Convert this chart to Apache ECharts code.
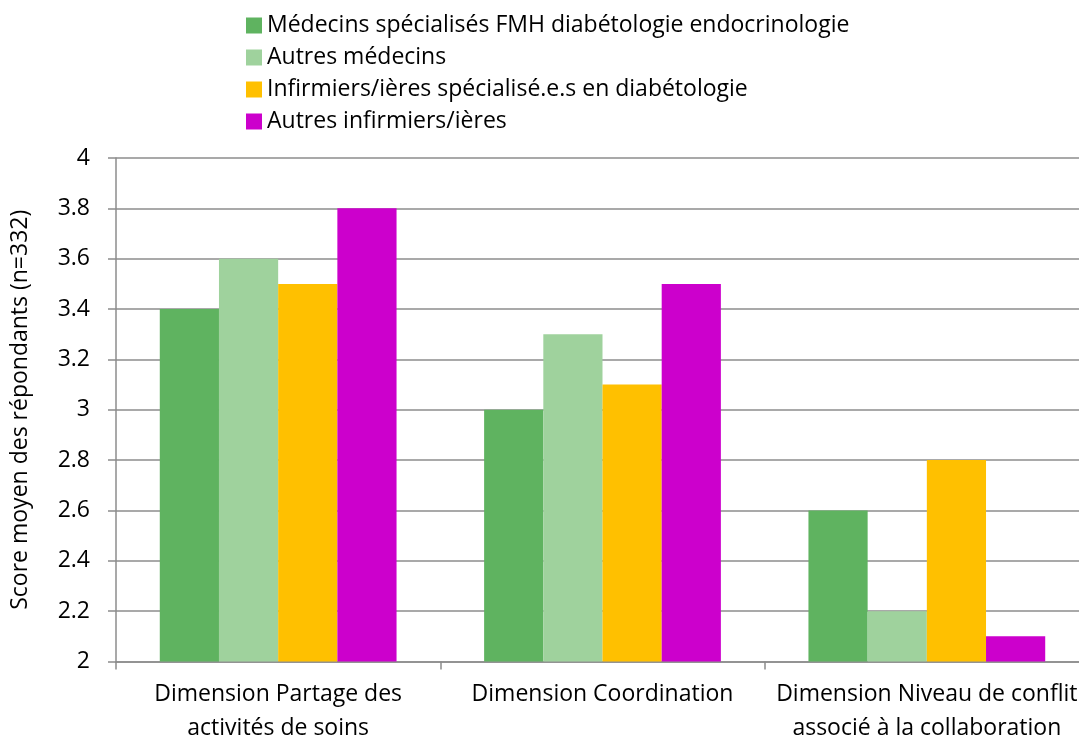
<!DOCTYPE html>
<html><head><meta charset="utf-8">
<script src="https://cdn.jsdelivr.net/npm/echarts@6/dist/echarts.min.js"></script>
<style>html,body{margin:0;padding:0;background:#fff}#c{width:1079px;height:740px}</style>
</head><body><div id="c"></div>
<script>
const categories = ["Dimension Partage des\nactivités de soins", "Dimension Coordination", "Dimension Niveau de conflit\nassocié à la collaboration"];
const seriesNames = ["Médecins spécialisés FMH diabétologie endocrinologie", "Autres médecins", "Infirmiers/ières spécialisé.e.s en diabétologie", "Autres infirmiers/ières"];
const seriesColors = ["#5fb360", "#9fd29d", "#ffc000", "#cc00cc"];
const valuesFMH = [3.4, 3.0, 2.6];
const valuesAutresMed = [3.6, 3.3, 2.2];
const valuesInfSpec = [3.5, 3.1, 2.8];
const valuesAutresInf = [3.8, 3.5, 2.1];
const allValues = [valuesFMH, valuesAutresMed, valuesInfSpec, valuesAutresInf];
const yTicks = ["2", "2.2", "2.4", "2.6", "2.8", "3", "3.2", "3.4", "3.6", "3.8", "4"];

const font = "'Open Sans', Lato, sans-serif";
const fs = 23;
const chart = echarts.init(document.getElementById('c'));
chart.setOption({
  animation: false,
  textStyle: {fontFamily: font},
  legend: {
    orient: 'vertical', left: 241, top: 9,
    itemWidth: 16, itemHeight: 16, itemGap: 9,
    icon: 'rect',
    textStyle: {fontSize: fs, color: '#000', fontFamily: font},
    data: seriesNames
  },
  grid: {left: 116, top: 158, width: 973, height: 503.5, containLabel: false, outerBoundsMode: 'none'},
  xAxis: {
    type: 'category', data: categories,
    axisLine: {lineStyle: {color: '#8c8c8c', width: 1.5}},
    axisTick: {show: true, length: 8, lineStyle: {color: '#8c8c8c', width: 1.5}},
    axisLabel: {interval: 0, fontSize: fs, color: '#000', lineHeight: 34, margin: 16, fontFamily: font}
  },
  yAxis: {
    type: 'value', min: 2, max: 4, interval: 0.2,
    name: 'Score moyen des répondants (n=332)', nameLocation: 'middle', nameGap: 84,
    nameTextStyle: {fontSize: fs, color: '#000', fontFamily: font},
    axisLine: {show: true, lineStyle: {color: '#8c8c8c', width: 1.5}},
    axisTick: {show: true, length: 8, lineStyle: {color: '#8c8c8c', width: 1.5}},
    splitLine: {lineStyle: {color: '#8c8c8c', width: 1.5}},
    axisLabel: {fontSize: fs, color: '#000', margin: 26, fontFamily: font,
      formatter: v => { const s = (Math.round(v*10)/10).toString(); return yTicks.includes(s) ? s : ''; }}
  },
  series: seriesNames.map((n, i) => ({
    name: n, type: 'bar', data: allValues[i],
    itemStyle: {color: seriesColors[i]},
    barGap: '0%', barCategoryGap: '27%'
  }))
});
</script></body></html>
